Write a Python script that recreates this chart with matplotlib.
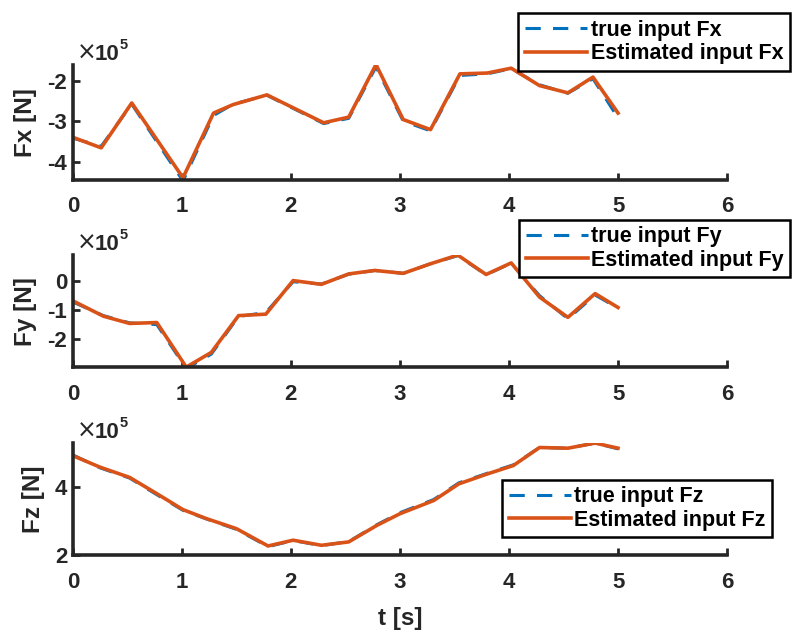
import matplotlib
matplotlib.use('Agg')
import matplotlib.pyplot as plt
from matplotlib.ticker import FuncFormatter

plt.rcParams['font.family'] = ['Liberation Sans', 'DejaVu Sans']
plt.rcParams['font.weight'] = 'bold'
plt.rcParams['axes.unicode_minus'] = False

# force inputs [N], sampled time knots [s]
t_fx = [0, 0.26, 0.54, 1.01, 1.29, 1.47, 1.78, 2.30, 2.53, 2.78, 3.03, 3.28,
        3.55, 3.80, 4.02, 4.28, 4.54, 4.77, 5.0]
fx_true = [-3.42e5, -3.62e5, -2.58e5, -4.48e5, -2.86e5, -2.58e5, -2.36e5,
           -3.06e5, -2.93e5, -1.66e5, -3.00e5, -3.24e5, -1.87e5, -1.83e5,
           -1.70e5, -2.10e5, -2.31e5, -1.95e5, -2.92e5]
fx_est = [-3.40e5, -3.66e5, -2.55e5, -4.40e5, -2.80e5, -2.59e5, -2.35e5,
          -3.04e5, -2.90e5, -1.60e5, -2.96e5, -3.21e5, -1.83e5, -1.81e5,
          -1.69e5, -2.12e5, -2.30e5, -1.91e5, -2.80e5]

t_fy = [0, 0.28, 0.52, 0.77, 1.04, 1.27, 1.52, 1.77, 2.02, 2.28, 2.53, 2.77,
        3.03, 3.28, 3.53, 3.79, 4.02, 4.28, 4.54, 4.79, 5.0]
fy_true = [-0.72e5, -1.19e5, -1.44e5, -1.50e5, -3.02e5, -2.52e5, -1.22e5,
           -1.08e5, -0.02e5, -0.10e5, 0.24e5, 0.37e5, 0.27e5, 0.60e5,
           0.88e5, 0.22e5, 0.62e5, -0.50e5, -1.30e5, -0.48e5, -0.93e5]
fy_est = [-0.68e5, -1.21e5, -1.46e5, -1.43e5, -2.97e5, -2.46e5, -1.19e5,
          -1.14e5, 0.02e5, -0.11e5, 0.25e5, 0.37e5, 0.27e5, 0.60e5, 0.90e5,
          0.23e5, 0.63e5, -0.55e5, -1.25e5, -0.43e5, -0.91e5]

t_fz = [0, 0.25, 0.52, 0.77, 1.01, 1.23, 1.50, 1.79, 2.02, 2.28, 2.53, 2.79,
        3.0, 3.31, 3.54, 3.80, 4.04, 4.28, 4.54, 4.79, 5.0]
fz_true = [4.95e5, 4.57e5, 4.27e5, 3.78e5, 3.32e5, 3.06e5, 2.76e5, 2.25e5,
           2.43e5, 2.28e5, 2.40e5, 2.90e5, 3.25e5, 3.64e5, 4.13e5, 4.41e5,
           4.66e5, 5.17e5, 5.15e5, 5.30e5, 5.13e5]
fz_est = [4.93e5, 4.59e5, 4.29e5, 3.81e5, 3.34e5, 3.07e5, 2.78e5, 2.27e5,
          2.44e5, 2.29e5, 2.39e5, 2.88e5, 3.22e5, 3.61e5, 4.10e5, 4.39e5,
          4.64e5, 5.17e5, 5.15e5, 5.30e5, 5.15e5]

panels = [
    (t_fx, fx_true, fx_est, 'Fx', (-4.45e5, -1.6e5), [-4e5, -3e5, -2e5]),
    (t_fy, fy_true, fy_est, 'Fy', (-2.97e5, 0.90e5), [-2e5, -1e5, 0]),
    (t_fz, fz_true, fz_est, 'Fz', (2.0e5, 5.3e5), [2e5, 4e5]),
]
# axes boxes and legend anchors in figure fraction
boxes = [[0.092, 0.716, 0.826, 0.182],
         [0.092, 0.420, 0.826, 0.177],
         [0.092, 0.123, 0.826, 0.177]]
legend_anchor = [(0.997, 0.979), (0.998, 0.653), (0.975, 0.242)]

dark = '#262626'
fig = plt.figure(figsize=(7.92, 6.33), dpi=100)

for i, (t, ftrue, fest, name, ylim, yticks) in enumerate(panels):
    ax = fig.add_axes(boxes[i])
    ax.plot(t, ftrue, color='#0072BD', lw=2.2, ls=(0, (5, 4)),
            label='true input ' + name)
    ax.plot(t, fest, color='#D95319', lw=2.6, label='Estimated input ' + name)
    ax.set_xlim(0, 6)
    ax.set_ylim(*ylim)
    ax.set_xticks(range(7))
    ax.set_yticks(yticks)
    ax.yaxis.set_major_formatter(FuncFormatter(lambda v, p: f'{v / 1e5:g}'))
    for side in ['top', 'right']:
        ax.spines[side].set_visible(False)
    for side in ['left', 'bottom']:
        ax.spines[side].set_linewidth(2.6)
        ax.spines[side].set_color(dark)
    ax.tick_params(direction='in', length=5, width=2, colors=dark,
                   labelsize=16)
    ax.tick_params(axis='x', pad=12)
    ax.tick_params(axis='y', pad=4)
    ax.set_ylabel(name + ' [N]', fontsize=17.5, fontweight='bold',
                  color=dark, labelpad=7.5)

    # exponent label above the y axis
    ax.annotate('\u00d7', xy=(0, 1), xycoords='axes fraction',
                xytext=(2.5, 8.6), textcoords='offset points',
                fontsize=17, fontweight='normal', family='DejaVu Sans',
                color=dark, ha='left', va='center')
    ax.annotate('10', xy=(0, 1), xycoords='axes fraction',
                xytext=(15.5, 3.6), textcoords='offset points',
                fontsize=16, color=dark, ha='left', va='baseline')
    ax.annotate('5', xy=(0, 1), xycoords='axes fraction',
                xytext=(34, 11.5), textcoords='offset points',
                fontsize=10.5, color=dark, ha='left', va='baseline')

    leg = ax.legend(loc='upper right', bbox_to_anchor=legend_anchor[i],
                    bbox_transform=fig.transFigure, fontsize=15.5,
                    fancybox=False, framealpha=1, edgecolor='black',
                    borderaxespad=0, borderpad=0.3, labelspacing=0.12,
                    handlelength=2.9, handletextpad=0.15)
    leg.get_frame().set_linewidth(1.8)
    if i == 2:
        ax.set_xlabel('t [s]', fontsize=17.5, fontweight='bold', color=dark,
                      labelpad=10)

fig.savefig('out.png', dpi=100, facecolor='white')
